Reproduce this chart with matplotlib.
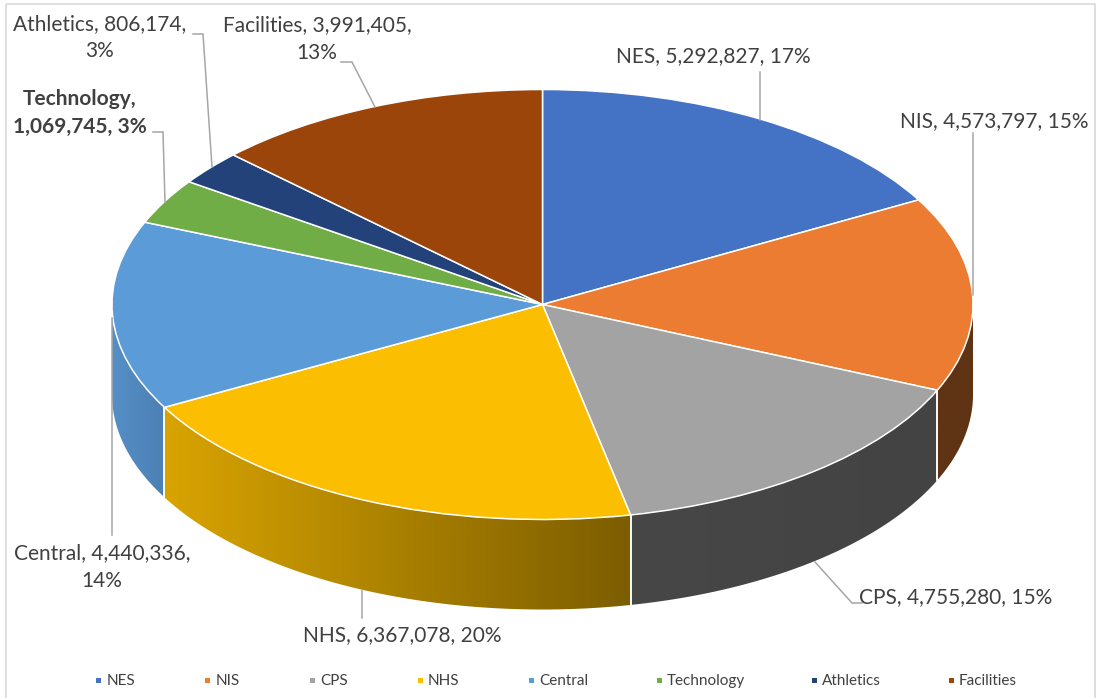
import numpy as np
import matplotlib
matplotlib.use("Agg")
import matplotlib.pyplot as plt
from matplotlib.colors import to_rgb
from matplotlib.patches import Rectangle, Polygon

plt.rcParams['font.family'] = ['Lato', 'DejaVu Sans']

names = ["NES", "NIS", "CPS", "NHS", "Central", "Technology", "Athletics", "Facilities"]
values = [5292827, 4573797, 4755280, 6367078, 4440336, 1069745, 806174, 3991405]
colors = ["#4472C4", "#EB7C31", "#A3A3A3", "#FBBE00", "#5B9BD8", "#70AD47", "#23427A", "#9C450B"]
wall_left = {"NIS": "#5F3314", "CPS": "#474747", "NHS": "#D9A400", "Central": "#558FC6"}
wall_right = {"NIS": "#5F3314", "CPS": "#434343", "NHS": "#7C5D00", "Central": "#4C80B4"}

W, H = 1100, 698
CX, CY, RX, RY, DEPTH = 542.5, 304.5, 430.5, 215.0, 90.0
TXT = "#404040"
GREY = "#A6A6A6"

fig = plt.figure(figsize=(W / 100, H / 100), dpi=100, facecolor="white")
ax = fig.add_axes([0, 0, 1, 1])

# unit-circle data space mapped onto the flattened ellipse
xlim = (-CX / RX, (W - CX) / RX)
ylim = ((CY - H) / RY, CY / RY)
depth = DEPTH / RY

total = sum(values)
fracs = np.array(values) / total
edges = np.concatenate([[0], np.cumsum(fracs)]) * 2 * np.pi  # clockwise from top

# side wall: horizontal colour ramp clipped to the visible outer band of each slice
for i, name in enumerate(names):
    a0, a1 = max(edges[i], np.pi / 2), min(edges[i + 1], 3 * np.pi / 2)
    if a1 <= a0 or name not in wall_left:
        continue
    th = np.linspace(a0, a1, 200)
    xs, ys = np.sin(th), np.cos(th)
    verts = np.column_stack([np.r_[xs, xs[::-1]], np.r_[ys, ys[::-1] - depth]])
    poly = Polygon(verts, closed=True, facecolor="none", edgecolor="none", transform=ax.transData)
    ax.add_patch(poly)
    xl, xr = xs.min(), xs.max()
    cl, cr = np.array(to_rgb(wall_left[name])), np.array(to_rgb(wall_right[name]))
    ramp = (cl[None, :] + (cr - cl)[None, :] * np.linspace(0, 1, 256)[:, None])[None, :, :]
    im = ax.imshow(ramp, extent=(xl, xr, ys.min() - depth - 0.01, ys.max() + 0.01),
                   aspect="auto", interpolation="bilinear", zorder=1)
    im.set_clip_path(poly)
    # white seam at slice boundaries
    for a, lim_test in ((a0, a0 > np.pi / 2 + 1e-6), (a1, a1 < 3 * np.pi / 2 - 1e-6)):
        if lim_test:
            ax.plot([np.sin(a)] * 2, [np.cos(a), np.cos(a) - depth], color="white", lw=1.1, zorder=2)

# top face
wedges, _ = ax.pie(values, colors=colors, startangle=90, counterclock=False, frame=True,
                   wedgeprops=dict(edgecolor="white", linewidth=1.1, zorder=3))
ax.set_aspect("auto")
ax.set_xlim(*xlim)
ax.set_ylim(*ylim)
ax.set_axis_off()

# overlay in pixel space for annotation furniture
ov = fig.add_axes([0, 0, 1, 1], facecolor="none")
ov.set_xlim(0, W)
ov.set_ylim(H, 0)
ov.set_axis_off()

ov.add_patch(Rectangle((5.5, 4), 1089.5, 720, fill=False, edgecolor="#D9D9D9", lw=1.2, zorder=0))

pct = [f"{round(f * 100)}%" for f in fracs]
label_txt = [
    f"{names[0]}, {values[0]:,}, {pct[0]}",
    f"{names[1]}, {values[1]:,}, {pct[1]}",
    f"{names[2]}, {values[2]:,}, {pct[2]}",
    f"{names[3]}, {values[3]:,}, {pct[3]}",
    f"{names[4]}, {values[4]:,},\n{pct[4]}",
    f"{names[5]},\n{values[5]:,}, {pct[5]}",
    f"{names[6]}, {values[6]:,},\n{pct[6]}",
    f"{names[7]}, {values[7]:,},\n{pct[7]}",
]
label_xy = [(713, 56), (994, 121), (955.5, 597), (402, 635), (102, 567), (80, 113), (100, 37.5), (317, 39)]
leaders = [
    [(760, 72), (760, 120)],
    [(973, 133), (973, 295)],
    [(815, 562), (852, 603), (862, 603)],
    [(362, 590), (362, 618)],
    [(112, 318), (112, 535)],
    [(153, 132), (163, 132), (165, 202)],
    [(193, 34), (203, 34), (212, 167)],
    [(341, 62), (352, 62), (375, 107)],
]
for pts in leaders:
    p = np.array(pts)
    ov.plot(p[:, 0], p[:, 1], color=GREY, lw=1.1, zorder=2, solid_joinstyle="miter")
for i, (t, (x, y)) in enumerate(zip(label_txt, label_xy)):
    ov.text(x, y, t, ha="center", va="center", color=TXT, fontsize=15, linespacing=1.45,
            fontweight="bold" if names[i] == "Technology" else "normal", zorder=5)

# legend
leg_mark_x = [98.5, 207.5, 312, 420, 531, 659, 814, 951]
for mx, nm, c in zip(leg_mark_x, names, colors):
    ov.add_patch(Rectangle((mx - 2.5, 677.5), 5, 5, facecolor=c, edgecolor="none"))
    ov.text(mx + 8, 681, nm, ha="left", va="center", fontsize=11, color=TXT)

fig.savefig("out.png", dpi=100)
